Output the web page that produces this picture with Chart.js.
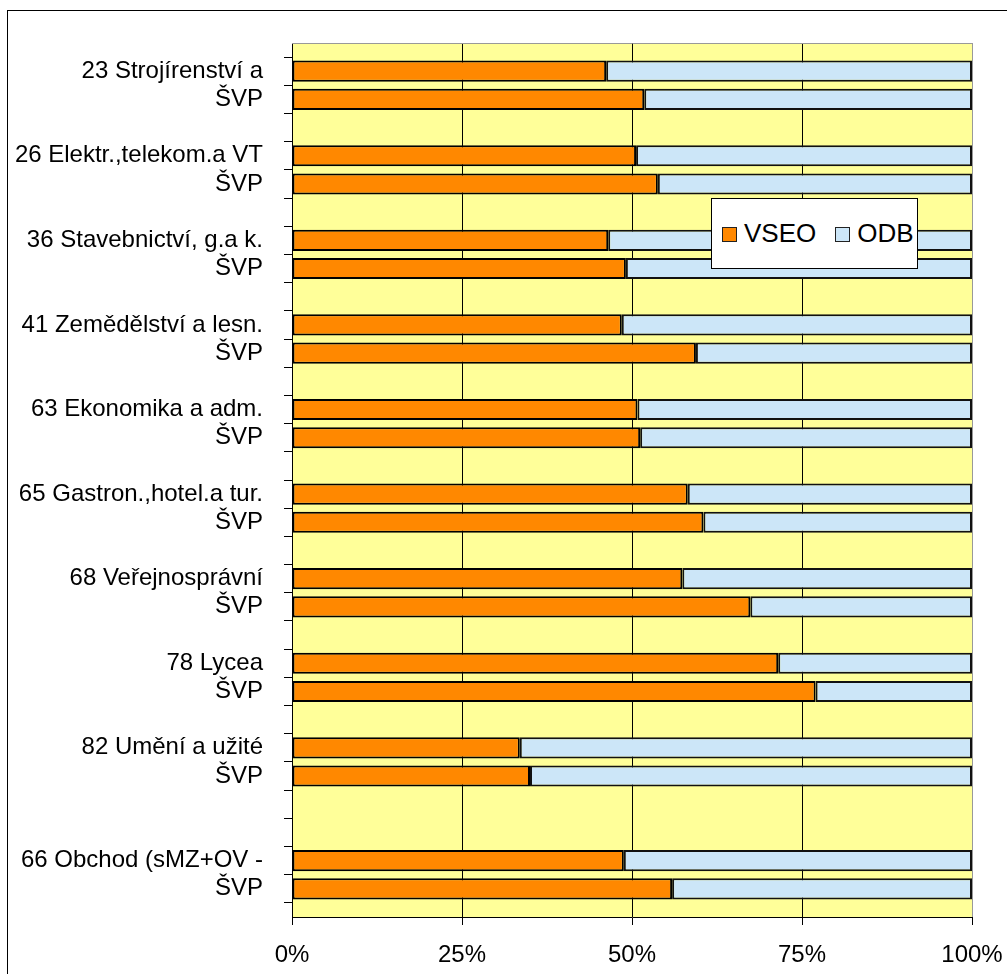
<!DOCTYPE html>
<html>
<head>
<meta charset="utf-8">
<script src="https://cdn.jsdelivr.net/npm/chart.js@4.4.1/dist/chart.umd.min.js"></script>
<style>
    html, body { margin: 0; padding: 0; background: #fff; overflow: hidden; }
    #wrap { position: relative; width: 1007px; height: 974px; }
    #frame { position: absolute; left: 7px; top: 10px; width: 1100px; height: 1100px; border: 1px solid #000; }
    #myChart { position: absolute; left: 0; top: 0; }
    #legend {
        position: absolute; left: 711px; top: 198px; width: 195px; height: 69px;
        background: #fff; border: 1px solid #000;
        font-family: 'Liberation Sans', Arial, sans-serif; font-size: 26px; color: #000;
        display: flex; align-items: center; padding-left: 10px; box-sizing: content-box;
    }
    #legend .item { display: flex; align-items: center; margin-right: 19px; }
    #legend .box { width: 13px; height: 13px; border: 1px solid #222; margin-right: 7px; margin-top: 2px; }
</style>
</head>
<body>
<div id="wrap">
    <div id="frame"></div>
    <canvas id="myChart" width="1007" height="974"></canvas>
    <div id="legend"></div>
</div>
<script>
// category rows, top to bottom (blank rows are the gaps between groups)
const labels = [
    '', '23 Strojírenství a', 'ŠVP',
    '', '26 Elektr.,telekom.a VT', 'ŠVP',
    '', '36 Stavebnictví, g.a k.', 'ŠVP',
    '', '41 Zemědělství a lesn.', 'ŠVP',
    '', '63 Ekonomika a adm.', 'ŠVP',
    '', '65 Gastron.,hotel.a tur.', 'ŠVP',
    '', '68 Veřejnosprávní', 'ŠVP',
    '', '78 Lycea', 'ŠVP',
    '', '82 Umění a užité', 'ŠVP',
    '', '', '66 Obchod (sMZ+OV -', 'ŠVP', ''
]

const vseo = [
    null, 46.2, 51.8,
    null, 50.6, 53.8,
    null, 46.5, 49.1,
    null, 48.5, 59.4,
    null, 50.8, 51.2,
    null, 58.2, 60.5,
    null, 57.4, 67.4,
    null, 71.5, 77.0,
    null, 33.5, 35.0,
    null, null, 48.8, 55.9, null
]

const odb = [
    null, 53.8, 48.2,
    null, 49.4, 46.2,
    null, 53.5, 50.9,
    null, 51.5, 40.6,
    null, 49.2, 48.8,
    null, 41.8, 39.5,
    null, 42.6, 32.6,
    null, 28.5, 23.0,
    null, 66.5, 65.0,
    null, null, 51.2, 44.1, null
]

const xTicks = [0, 25, 50, 75, 100]

const orange = '#FF8800'
const paleBlue = '#CCE6F8'

Chart.defaults.font.family = "'Liberation Sans', Arial, sans-serif"
Chart.defaults.color = '#000'

// yellow plot area and grey top edge
const plotArea = {
    id: 'plotArea',
    beforeDraw(chart) {
        const {ctx, chartArea: a} = chart
        ctx.save()
        ctx.fillStyle = '#FFFF99'
        ctx.fillRect(a.left, a.top, a.right - a.left, a.bottom - a.top)
        ctx.restore()
    },
    beforeDatasetsDraw(chart) {
        const {ctx, chartArea: a} = chart
        ctx.save()
        ctx.strokeStyle = '#999'
        ctx.lineWidth = 1
        ctx.beginPath()
        ctx.moveTo(a.left, a.top + 0.5)
        ctx.lineTo(a.right + 1, a.top + 0.5)
        ctx.stroke()
        ctx.restore()
    }
}

const ctx = document.getElementById('myChart').getContext('2d')
const myChart = new Chart(ctx, {
    type: 'bar',
    data: {
        labels: labels,
        datasets: [{
            label: 'VSEO',
            data: vseo,
            backgroundColor: orange,
            borderColor: '#000',
            borderWidth: 2,
            borderSkipped: false
        }, {
            label: 'ODB',
            data: odb,
            backgroundColor: paleBlue,
            borderColor: '#111',
            borderWidth: 2,
            borderSkipped: false
        }]
    },
    options: {
        indexAxis: 'y',
        responsive: false,
        animation: false,
        datasets: {
            bar: { categoryPercentage: 1, barPercentage: 0.75 }
        },
        layout: { padding: { left: 0, right: 35, top: 43, bottom: 0 } },
        plugins: {
            legend: { display: false },
            tooltip: { enabled: false }
        },
        scales: {
            x: {
                stacked: true,
                min: 0,
                max: 100,
                afterBuildTicks(scale) {
                    scale.ticks = xTicks.map(v => ({ value: v }))
                },
                afterFit(scale) {
                    scale.height = 57
                    scale.paddingRight = 0
                    scale.paddingLeft = 0
                },
                ticks: {
                    font: { size: 24 },
                    padding: 16,
                    maxRotation: 0,
                    callback: v => v + '%'
                },
                grid: {
                    color: c => (c.tick && c.tick.value === 100) ? '#999' : '#000',
                    tickColor: '#000',
                    tickLength: 8,
                    lineWidth: 1
                },
                border: { color: '#000', width: 1 }
            },
            y: {
                stacked: true,
                offset: false,
                afterFit(scale) { scale.width = 292 },
                ticks: {
                    font: { size: 24 },
                    padding: 21,
                    autoSkip: false
                },
                grid: {
                    drawOnChartArea: false,
                    color: '#000',
                    tickLength: 8
                },
                border: { color: '#000', width: 1 }
            }
        }
    },
    plugins: [plotArea]
})

// legend box placed inside the plot like the original
const legendBox = document.getElementById('legend')
myChart.data.datasets.forEach(ds => {
    const item = document.createElement('div')
    item.className = 'item'
    const box = document.createElement('span')
    box.className = 'box'
    box.style.background = ds.backgroundColor
    const txt = document.createElement('span')
    txt.textContent = ds.label
    item.appendChild(box)
    item.appendChild(txt)
    legendBox.appendChild(item)
})
</script>
</body>
</html>
